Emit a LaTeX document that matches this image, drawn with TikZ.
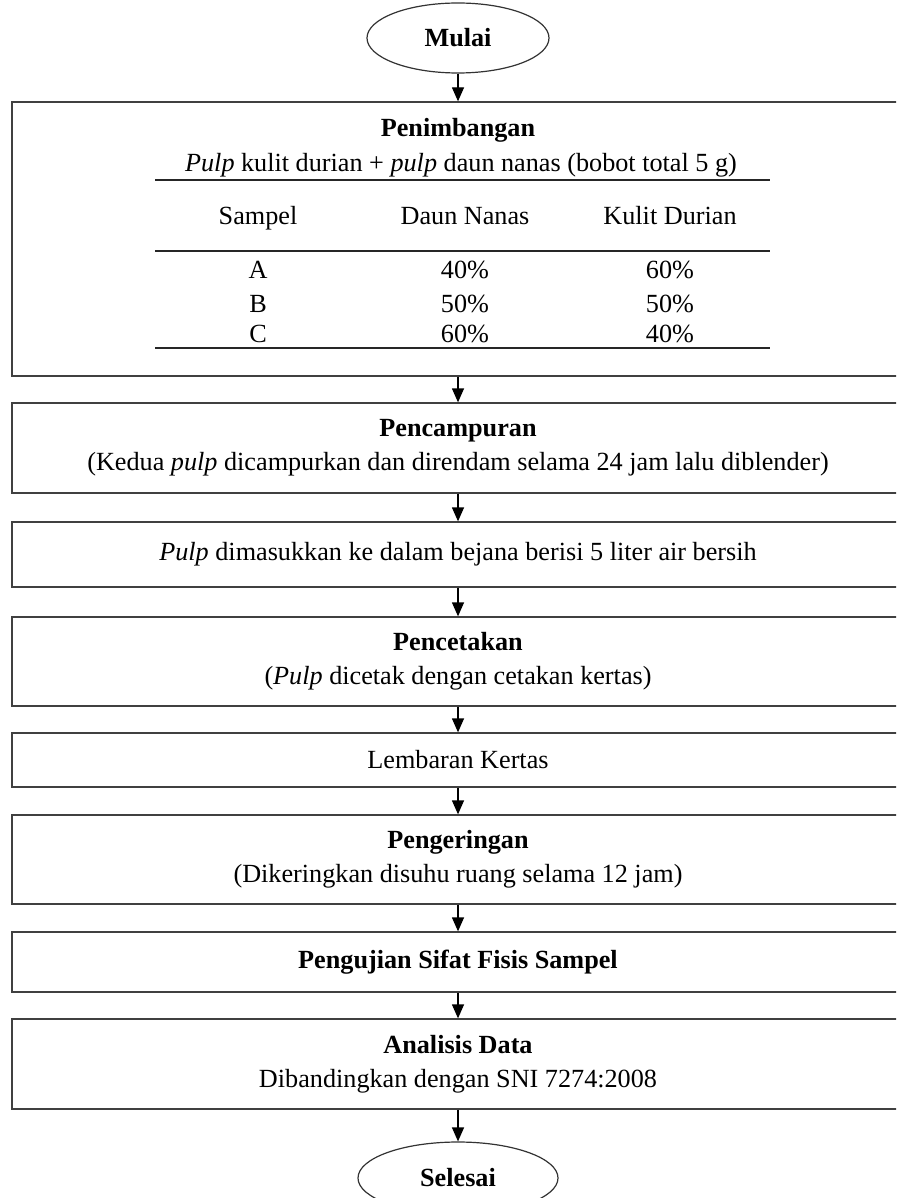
\documentclass[tikz,border=0pt]{standalone}
\usepackage{fontspec}
\setmainfont{Liberation Serif}
\usetikzlibrary{positioning, arrows.meta, shapes}

\begin{document}
\begin{tikzpicture}[x=1pt, y=-1pt,
  font=\fontsize{26.2}{34}\selectfont,
  box/.style={draw=black!75, line width=1.3pt, rectangle, minimum width=892pt, inner sep=0pt, align=center},
  term/.style={draw=black!80, line width=1.2pt, ellipse, inner sep=0pt, font=\fontsize{26.2}{34}\selectfont\bfseries},
  flow/.style={-{Triangle[length=14pt, width=12pt]}, line width=1.3pt},
  rule/.style={line width=1.3pt, draw=black!85}]
\clip (0,0) rectangle (896,1198);

\node[term, minimum width=182pt, minimum height=70pt] (mulai) at (458,38) {Mulai};

% penimbangan + tabel
\node[box, minimum height=274pt] (timbang) at (458,239) {};
\node[anchor=base] (judul) at (458,137) {\textbf{Penimbangan}};
\node[anchor=base] (bobot) at (461,172) {\textit{Pulp} kulit durian + \textit{pulp} daun nanas (bobot total 5 g)};
\draw[rule] (155,180) -- (770,180);
\node[anchor=base] (hsampel) at (258,225) {Sampel};
\node[anchor=base] (hnanas) at (465,225) {Daun Nanas};
\node[anchor=base] (hdurian) at (670,225) {Kulit Durian};
\draw[rule] (155,251) -- (770,251);
\node[anchor=base] (sa) at (258,278) {A};
\node[anchor=base] (na) at (465,278) {40\%};
\node[anchor=base] (da) at (670,278) {60\%};
\node[anchor=base] (sb) at (258,312) {B};
\node[anchor=base] (nb) at (465,312) {50\%};
\node[anchor=base] (db) at (670,312) {50\%};
\node[anchor=base] (sc) at (258,342) {C};
\node[anchor=base] (nc) at (465,342) {60\%};
\node[anchor=base] (dc) at (670,342) {40\%};
\draw[rule] (155,348) -- (770,348);

\node[box, minimum height=90pt] (campur) at (458,448) {\textbf{Pencampuran}\\(Kedua \textit{pulp} dicampurkan dan direndam selama 24 jam lalu diblender)};
\node[box, minimum height=65pt] (bejana) at (458,554.5) {\textit{Pulp} dimasukkan ke dalam bejana berisi 5 liter air bersih};
\node[box, minimum height=89pt] (cetak) at (458,661.5) {\textbf{Pencetakan}\\(\textit{Pulp} dicetak dengan cetakan kertas)};
\node[box, minimum height=54pt] (lembar) at (458,760) {Lembaran Kertas};
\node[box, minimum height=89pt] (kering) at (458,859.5) {\textbf{Pengeringan}\\(Dikeringkan disuhu ruang selama 12 jam)};
\node[box, minimum height=60pt] (uji) at (458,962) {\textbf{Pengujian Sifat Fisis Sampel}};
\node[box, minimum height=90pt] (analisis) at (458,1064) {\textbf{Analisis Data}\\Dibandingkan dengan SNI 7274:2008};

\node[term, minimum width=200pt, minimum height=72pt] (selesai) at (458,1178) {Selesai};

\draw[flow] (mulai) -- (timbang);
\draw[flow] (timbang) -- (campur);
\draw[flow] (campur) -- (bejana);
\draw[flow] (bejana) -- (cetak);
\draw[flow] (cetak) -- (lembar);
\draw[flow] (lembar) -- (kering);
\draw[flow] (kering) -- (uji);
\draw[flow] (uji) -- (analisis);
\draw[flow] (analisis) -- (selesai);
\end{tikzpicture}
\end{document}
